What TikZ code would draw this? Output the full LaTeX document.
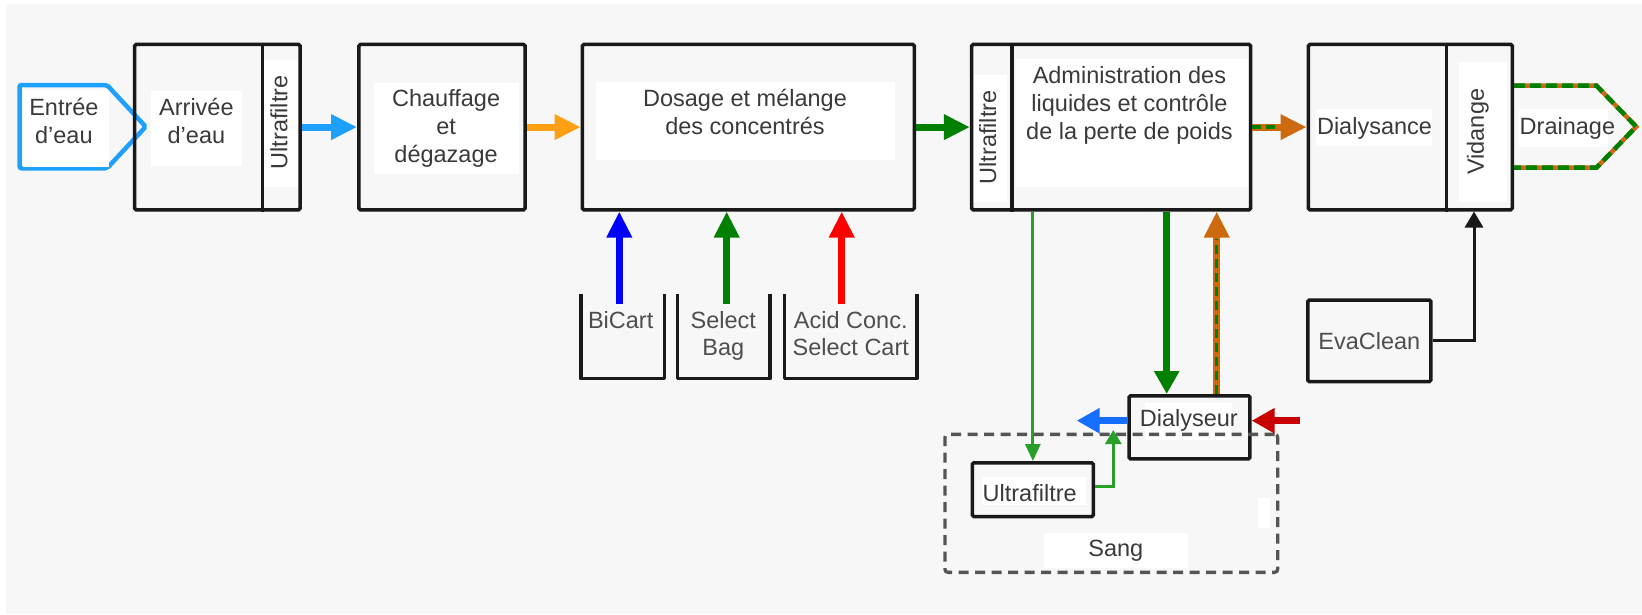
\documentclass[tikz,border=0pt]{standalone}
\usepackage{fontspec}
\setmainfont{Liberation Sans}
\usetikzlibrary{arrows.meta}
\definecolor{bggray}{RGB}{247,247,247}
\definecolor{txtgray}{RGB}{58,58,58}
\definecolor{wblue}{RGB}{30,160,255}
\definecolor{worange}{RGB}{255,160,20}
\definecolor{wgreen}{RGB}{0,128,0}
\definecolor{wbrown}{RGB}{205,105,15}
\definecolor{tgreen}{RGB}{40,160,40}
\definecolor{pblue}{RGB}{0,0,255}
\definecolor{pred}{RGB}{255,0,0}
\definecolor{lblue}{RGB}{20,110,255}
\definecolor{dred}{RGB}{200,0,0}
\definecolor{boxblack}{RGB}{25,25,25}
\definecolor{dashgray}{RGB}{85,85,85}
\begin{document}
\begin{tikzpicture}[x=1pt,y=-1pt,
  block/.style={draw=boxblack, line width=3.5pt, rectangle, rounded corners=1.5pt, minimum height=165.3pt, inner sep=0pt},
  smallbox/.style={draw=boxblack, line width=3.5pt, rectangle, rounded corners=1.5pt, inner sep=0pt},
  binbox/.style={rectangle, inner sep=0pt, minimum height=84pt},
  binline/.style={draw=boxblack, line width=3.5pt, line join=round},
  txt/.style={font=\fontsize{23.5}{28}\selectfont, text=txtgray, inner sep=0pt, align=center},
  bintxt/.style={font=\fontsize{23.5}{27.5}\selectfont, text=txtgray!90!white, inner sep=0pt, align=center},
  whitebg/.style={fill=white},
  fat/.style={line width=7pt, -{Triangle[length=26pt,width=24pt]}},
  fatshort/.style={line width=7pt, -{Triangle[length=23pt,width=24pt]}},
  greendash/.style={draw=wgreen, line width=3.5pt, dash pattern=on 9pt off 5pt},
  thinarr/.style={draw=tgreen, line width=3pt, -{Triangle[length=17pt,width=15pt]}},
  blackarr/.style={draw=boxblack, line width=3pt, -{Triangle[length=16pt,width=18pt]}},
  outline/.style={line width=4.5pt, line join=miter}
]
\useasboundingbox (0,0) rectangle (1642,614);
\fill[white] (0,0) rectangle (1642,614);
\fill[bggray] (6,4) rectangle (1642,614);

% Entrée shape
\draw[wblue, outline, rounded corners=2pt] (19.6,85) -- (107,85) -- (145.7,126.7) -- (107,168.3) -- (19.6,168.3) -- cycle;

% white label backgrounds
\fill[whitebg] (23.2,90) rectangle (109,166.7);
\fill[whitebg] (150.7,90.7) rectangle (242.1,165.7);
\fill[whitebg] (264.3,60) rectangle (301,186.7);
\fill[whitebg] (374.3,82.7) rectangle (518.6,174);
\fill[whitebg] (596,82.3) rectangle (895,160);
\fill[whitebg] (971.2,75) rectangle (1007.4,201.7);
\fill[whitebg] (1016.2,59) rectangle (1247.9,186.7);
\fill[whitebg] (1316.3,109) rectangle (1432.3,146);
\fill[whitebg] (1458.8,61.7) rectangle (1506.9,201.7);
\fill[whitebg] (1145,403) rectangle (1231.7,440);
\fill[whitebg] (981.7,477) rectangle (1085.7,505);
\fill[whitebg] (1044,532.7) rectangle (1188,568.3);
\fill[whitebg] (1258,498) rectangle (1270,528);

% main blocks
\node[block, minimum width=165.4pt] (arr) at (217.35,127.1) {};
\node[block, minimum width=166.2pt] (chf) at (441.95,127.1) {};
\node[block, minimum width=331.8pt] (dos) at (748.35,127.1) {};
\node[block, minimum width=278.9pt] (adm) at (1111.1,127.1) {};
\node[block, minimum width=203.9pt] (dia) at (1410.3,127.1) {};

% dividers
\coordinate (arrdiv) at (262.5,127);
\coordinate (admdiv) at (1011.8,127);
\coordinate (diadiv) at (1446.5,127);
\draw[boxblack, line width=3.5pt] (arrdiv |- arr.north) -- (arrdiv |- arr.south);
\draw[boxblack, line width=3.5pt] (admdiv |- adm.north) -- (admdiv |- adm.south);
\draw[boxblack, line width=3.5pt] (diadiv |- dia.north) -- (diadiv |- dia.south);

% Drainage shape
\coordinate (dr1) at (1596.5,85.7);
\coordinate (dr2) at (1636.2,126.7);
\coordinate (dr3) at (1596.5,167.7);
\draw[wbrown, outline] (dia.east |- dr1) -- (dr1) -- (dr2) -- (dr3) -- (dia.east |- dr3);
\draw[wgreen, outline, dash pattern=on 11pt off 5pt] (dia.east |- dr1) -- (dr1) -- (dr2) -- (dr3) -- (dia.east |- dr3);
\fill[whitebg] (1519.3,109) rectangle (1607.5,146.7);

% concentrate bins
\node[binbox, minimum width=83.2pt] (bic) at (622.65,336.5) {};
\node[binbox, minimum width=92.2pt] (sel) at (723.85,336.5) {};
\node[binbox, minimum width=132.1pt] (acd) at (850.5,336.5) {};
\draw[binline] (bic.north west) -- (bic.south west) -- (bic.south east) -- (bic.north east);
\draw[binline] (sel.north west) -- (sel.south west) -- (sel.south east) -- (sel.north east);
\draw[binline] (acd.north west) -- (acd.south west) -- (acd.south east) -- (acd.north east);

% lower boxes
\node[smallbox, minimum width=120.8pt, minimum height=53.8pt] (ultb) at (1032.85,489.65) {};
\node[smallbox, minimum width=120.9pt, minimum height=63.2pt] (dly) at (1189.5,427.35) {};
\node[smallbox, minimum width=123.2pt, minimum height=81.5pt] (eva) at (1369.35,340.8) {};
\node[draw=dashgray, line width=3.3pt, dash pattern=on 10pt off 6.5pt, rounded corners=3pt, minimum width=332.7pt, minimum height=138pt, inner sep=0pt] (sang) at (1111.3,503.35) {};

% top flow connectors
\draw[wblue, fat] (arr.east) -- (chf.west);
\draw[worange, fat] (chf.east) -- (dos.west);
\draw[wgreen, fat] (dos.east) -- (adm.west);
\draw[wbrown, fat] (adm.east) -- (dia.west);
\draw[greendash, shorten >=27pt] (adm.east) -- (dia.west);

% concentrate arrows
\draw[pblue, fat] ([xshift=-3.35pt,yshift=-10pt]bic.north) coordinate (bicA) -- (bicA |- dos.south);
\draw[wgreen, fat] ([xshift=2.85pt,yshift=-10pt]sel.north) coordinate (selA) -- (selA |- dos.south);
\draw[pred, fat] ([xshift=-8.8pt,yshift=-10pt]acd.north) coordinate (acdA) -- (acdA |- dos.south);

% admin <-> dialyseur / ultrafiltre
\draw[thinarr] (ultb.north |- adm.south) -- (ultb.north);
\coordinate (gd) at ([xshift=-22.8pt]dly.north);
\draw[wgreen, fatshort] (gd |- adm.south) -- (gd);
\coordinate (ou) at ([xshift=27.2pt]dly.north);
\draw[wbrown, fat] (ou) -- (ou |- adm.south);
\draw[greendash, shorten >=27pt] (ou) -- (ou |- adm.south);

% ultrafiltre -> dialyseur (blood side)
\coordinate (ue) at ([yshift=3.65pt]ultb.east);
\coordinate (ut) at (1113.3,430);
\draw[thinarr, -{Triangle[length=14pt,width=16pt]}] (ue) -| (ut);

% blood in / out
\coordinate (dlw) at ([yshift=6.65pt]dly.west);
\coordinate (bl) at (1076.7,420.7);
\draw[lblue, fatshort] (dlw) -- (bl |- dlw);
\coordinate (dle) at ([yshift=6.65pt]dly.east);
\coordinate (rs) at (1300,420.7);
\draw[dred, fatshort] (rs |- dle) -- (dle);

% EvaClean -> Vidange
\coordinate (vx) at (1474,300);
\draw[blackarr] (eva.east) -| (vx |- dia.south);

% texts
\node[txt] (tent) at (63.9,120.5) {Entrée\\d’eau};
\node[txt] (tarv) at (196.4,120.5) {Arrivée\\d’eau};
\node[txt, rotate=90] (tul1) at (278.9,122.5) {Ultrafiltre};
\node[txt] (tchf) at (446.1,128.8) {Chauffage\\et\\dégazage};
\node[txt] (tdos) at (745,112.1) {Dosage et mélange\\des concentrés};
\node[txt, rotate=90] (tul2) at (987.7,137.5) {Ultrafiltre};
\node[txt] (tadm) at (1129.4,105.8) {Administration des\\liquides et contrôle\\de la perte de poids};
\node[txt, anchor=base] (tdia) at (1374.5,134.3) {Dialysance};
\node[txt, rotate=90] (tvid) at (1477.9,131.7) {Vidange};
\node[txt, anchor=base] (tdra) at (1567.4,134.3) {Drainage};
\node[bintxt, anchor=base] (tbic) at (620.7,328.3) {BiCart};
\node[bintxt] (tsel) at (723.3,336) {Select\\Bag};
\node[bintxt] (tacd) at (850.8,333.7) {Acid Conc.\\Select Cart};
\node[bintxt, anchor=base] (teva) at (1369.3,349.3) {EvaClean};
\node[txt, anchor=base] (tdly) at (1188.8,426.7) {Dialyseur};
\node[txt, anchor=base] (tulb) at (1029.7,501.7) {Ultrafiltre};
\node[txt, anchor=base] (tsang) at (1115.8,556) {Sang};
\end{tikzpicture}
\end{document}
